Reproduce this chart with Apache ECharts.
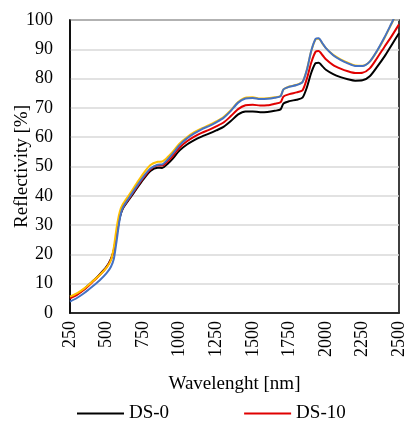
<!DOCTYPE html>
<html><head><meta charset="utf-8">
<script src="https://cdn.jsdelivr.net/npm/echarts@6/dist/echarts.min.js"></script>
<style>html,body{margin:0;padding:0;background:#fff}#c{width:407px;height:425px}</style>
</head><body><div id="c"></div>
<script>
var wavelengths = [250,300,350,400,450,500,530,550,570,590,610,650,700,750,800,850,880,920,950,1000,1050,1100,1150,1200,1250,1300,1350,1400,1450,1500,1550,1600,1650,1690,1710,1750,1800,1840,1870,1900,1930,1950,1980,2000,2050,2100,2150,2200,2250,2300,2350,2400,2450,2500];
var ds0 = [5.2,6.5,8.3,10.6,13.0,15.8,18.5,21.5,27,32.5,35.5,38.5,42,45.5,48.5,49.6,49.5,51,52.5,55.5,57.5,59,60.2,61.2,62.3,63.5,65.5,67.8,68.8,68.8,68.5,68.6,69,69.5,71.5,72.3,72.8,73.5,77,82,85.3,85.4,84,83,81.5,80.5,79.8,79.3,79.4,80.8,84,87.5,91.5,95.5];
var ds10 = [5.0,6.3,8.1,10.4,12.8,15.6,18.2,21.5,27.2,32.8,35.8,38.8,42.4,46,49,50.3,50.3,51.9,53.4,56.5,58.6,60.2,61.5,62.5,63.7,65,67.2,69.6,70.9,71.1,70.8,70.9,71.4,71.9,73.9,74.7,75.3,76,80,85.5,89.2,89.4,87.8,86.6,84.6,83.4,82.5,81.9,82,83.5,87,90.8,94.5,98.5];
var ds20 = [5.6,6.8,8.5,10.6,12.8,15.5,18,22.5,29.5,34.5,37,40,43.8,47.5,50.5,51.6,51.7,53.3,54.9,57.9,60,61.7,63,64.1,65.4,66.9,69.2,72,73.5,73.6,73.2,73.3,73.6,74.1,76.3,77.3,77.9,78.9,83,89.4,93.4,93.6,91.7,90.4,88.1,86.6,85.4,84.5,84.4,85.8,89.4,93.8,98.8,103.8];
var ds30 = [3.9,5.2,6.9,8.9,11.0,13.6,15.8,18.5,25,32,35.8,39,42.8,46.4,49.3,50.6,50.7,52.5,54.2,57.3,59.6,61.3,62.7,63.8,65.1,66.6,69,71.8,73.2,73.4,73,73.1,73.5,74,76.3,77.2,77.8,78.8,83,89.5,93.6,93.8,91.8,90.4,88,86.4,85.2,84.3,84.3,85.8,89.5,94,99,104];
var seriesNames = ['DS-0','DS-10','DS-20','DS-30'];
var legendNames = ['DS-0','DS-10'];

function pairs(arr){ return wavelengths.map(function(w,i){ return [w, arr[i]]; }); }
var colors = ['#000000','#e00000','#ffc000','#4472c4'];
var dataSets = [ds0, ds10, ds20, ds30];
var font = 'Liberation Serif';
var chart = echarts.init(document.getElementById('c'));
chart.setOption({
  animation: false,
  textStyle: {fontFamily: font, color: '#000'},
  grid: {left: 70, right: 8, top: 20, bottom: 112, outerBoundsMode: 'none', containLabel: false,
    show: true, borderColor: '#000', borderWidth: 1.5, backgroundColor: 'transparent'},
  legend: {data: legendNames, left: 72, top: 399, itemWidth: 47, itemHeight: 2, icon: 'rect', itemGap: 75,
    textStyle: {fontFamily: font, fontSize: 19, color: '#000'}},
  xAxis: {type: 'value', min: 250, max: 2500, interval: 250,
    name: 'Wavelenght [nm]', nameLocation: 'middle', nameGap: 62, nameMoveOverlap: false,
    nameTextStyle: {fontFamily: font, fontSize: 19, color: '#000'},
    axisLine: {show: true, lineStyle: {color: '#000', width: 1.5}},
    axisTick: {show: false}, splitLine: {show: false},
    axisLabel: {rotate: 90, margin: 8, fontFamily: font, fontSize: 18, color: '#000',
      formatter: function(v){ return String(v); }}},
  yAxis: {type: 'value', min: 0, max: 100, interval: 10,
    name: 'Reflectivity [%]', nameLocation: 'middle', nameGap: 38, nameMoveOverlap: false,
    nameTextStyle: {fontFamily: font, fontSize: 19, color: '#000'},
    axisLine: {show: true, lineStyle: {color: '#000', width: 1.5}},
    axisTick: {show: false},
    splitLine: {show: true, lineStyle: {color: '#d9d9d9', width: 1.5}},
    axisLabel: {margin: 17, fontFamily: font, fontSize: 18, color: '#000'}},
  series: dataSets.map(function(d, i){
    return {name: seriesNames[i], type: 'line', data: pairs(d), showSymbol: false, symbol: 'none',
      smooth: 0.25, clip: true, z: 2 + i,
      lineStyle: {color: colors[i], width: 2}, itemStyle: {color: colors[i]}};
  })
});
</script></body></html>
